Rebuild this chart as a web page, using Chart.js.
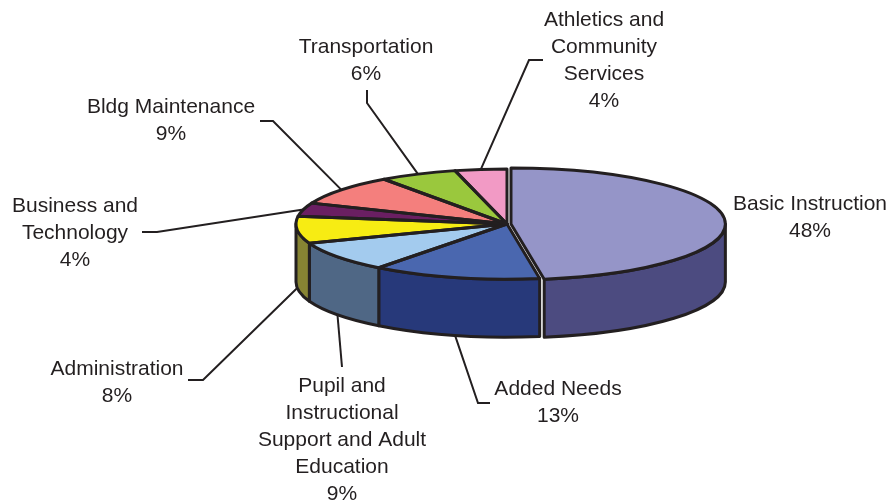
<!DOCTYPE html>
<html>
<head>
<meta charset="UTF-8">
<title>Expenditures by Function</title>
<script src="https://cdn.jsdelivr.net/npm/chart.js"></script>
<style>
  html, body { margin: 0; padding: 0; background: #fff; }
</style>
</head>
<body>
<canvas id="pieChart" width="892" height="501"></canvas>
<script>
// data
const categories = ['Basic Instruction', 'Added Needs', 'Pupil and Instructional Support and Adult Education',
  'Administration', 'Business and Technology', 'Bldg Maintenance', 'Transportation', 'Athletics and Community Services'];
const shares = [48, 13, 9, 8, 4, 9, 6, 4];
const labelLines = [
  ['Basic Instruction'],
  ['Added Needs'],
  ['Pupil and', 'Instructional', 'Support and Adult', 'Education'],
  ['Administration'],
  ['Business and', 'Technology'],
  ['Bldg Maintenance'],
  ['Transportation'],
  ['Athletics and', 'Community', 'Services']
];

// styles
const topColors  = ['#9595C8', '#4A67AF', '#A3CBEE', '#F7EC13', '#6A1F62', '#F47F7D', '#9AC83D', '#F29AC5'];
const sideColors = ['#4C4B80', '#27397A', '#4F6785', '#878433', '#3F1240', '#8F4544', '#5A7A22', '#8F5A75'];
const explode = [16, 0, 0, 0, 0, 0, 0, 0];
const EDGE = '#231F20';
const TILT = 0.261;   // ellipse ry / rx
const DEPTH = 58;     // thickness of the pie
const LINE_H = 27;

// label placement: x = text centre, y = first baseline, leader = points before the slice anchor
const labelLayout = [
  { x: 810, y: 210, leader: null },
  { x: 558, y: 395, leader: [[490, 403], [478, 403]] },
  { x: 342, y: 392, leader: [[342, 367]] },
  { x: 117, y: 375, leader: [[188, 380], [203, 380]] },
  { x: 75,  y: 212, leader: [[142, 232], [157, 232]] },
  { x: 171, y: 113, leader: [[260, 121], [273, 121]] },
  { x: 366, y: 53,  leader: [[367, 90], [367, 103]] },
  { x: 604, y: 26,  leader: [[543, 60], [529, 60]] }
];

// same shift Chart.js applies to an arc with an offset
function arcGeom(arc) {
  const off = (arc.options.offset || 0) / 4;
  const half = (arc.startAngle + arc.endAngle) / 2;
  const circ = arc.endAngle - arc.startAngle;
  const fix = 1 - Math.sin(Math.min(Math.PI, circ));
  return {
    cx: arc.x + Math.cos(half) * off,
    cy: arc.y + Math.sin(half) * off * TILT,
    r: arc.outerRadius + off * fix,
    a0: arc.startAngle,
    a1: arc.endAngle
  };
}

function topPath(ctx, g) {
  ctx.beginPath();
  ctx.moveTo(g.cx, g.cy);
  ctx.ellipse(g.cx, g.cy, g.r, g.r * TILT, 0, g.a0, g.a1);
  ctx.closePath();
}

function wallPath(ctx, g, s, e) {
  ctx.beginPath();
  ctx.ellipse(g.cx, g.cy, g.r, g.r * TILT, 0, s, e);
  ctx.lineTo(g.cx + g.r * Math.cos(e), g.cy + g.r * TILT * Math.sin(e) + DEPTH);
  ctx.ellipse(g.cx, g.cy + DEPTH, g.r, g.r * TILT, 0, e, s, true);
  ctx.closePath();
}

const pie3d = {
  id: 'pie3d',
  beforeDatasetsDraw(chart) {
    const ctx = chart.ctx;
    const arcs = chart.getDatasetMeta(0).data;
    ctx.save();
    ctx.lineWidth = 3;
    ctx.lineJoin = 'round';
    ctx.strokeStyle = EDGE;
    arcs.forEach((arc, i) => {
      const g = arcGeom(arc);
      const s = Math.max(g.a0, 0), e = Math.min(g.a1, Math.PI);
      if (s >= e) return;
      wallPath(ctx, g, s, e);
      ctx.fillStyle = sideColors[i];
      ctx.fill();
      ctx.stroke();
    });
    ctx.restore();
    // squash the library's own slices into the tilted top face
    const cx = arcs[0].x, cy = arcs[0].y;
    ctx.save();
    ctx.translate(cx, cy);
    ctx.scale(1, TILT);
    ctx.translate(-cx, -cy);
  },
  afterDatasetsDraw(chart) {
    const ctx = chart.ctx;
    ctx.restore();
    const arcs = chart.getDatasetMeta(0).data;
    ctx.save();
    ctx.lineWidth = 3;
    ctx.lineJoin = 'round';
    ctx.strokeStyle = EDGE;
    arcs.forEach(arc => { topPath(ctx, arcGeom(arc)); ctx.stroke(); });
    ctx.restore();
  },
  afterDraw(chart) {
    const ctx = chart.ctx;
    const arcs = chart.getDatasetMeta(0).data;
    ctx.save();
    ctx.font = '21px "Liberation Sans", Arial, sans-serif';
    ctx.fillStyle = EDGE;
    ctx.textAlign = 'center';
    ctx.textBaseline = 'alphabetic';
    ctx.strokeStyle = EDGE;
    ctx.lineWidth = 2;
    ctx.lineJoin = 'miter';
    arcs.forEach((arc, i) => {
      const L = labelLayout[i];
      const lines = labelLines[i].concat([shares[i] + '%']);
      lines.forEach((t, j) => ctx.fillText(t, L.x, L.y + j * LINE_H));
      if (!L.leader) return;
      const g = arcGeom(arc);
      const mid = (g.a0 + g.a1) / 2;
      const ax = g.cx + g.r * Math.cos(mid);
      let ay = g.cy + g.r * TILT * Math.sin(mid);
      if (Math.sin(mid) > 0) ay += DEPTH;
      ctx.beginPath();
      ctx.moveTo(L.leader[0][0], L.leader[0][1]);
      L.leader.slice(1).forEach(p => ctx.lineTo(p[0], p[1]));
      ctx.lineTo(ax, ay);
      ctx.stroke();
    });
    ctx.restore();
  }
};

const ctx = document.getElementById('pieChart').getContext('2d');
new Chart(ctx, {
  type: 'pie',
  data: {
    labels: categories,
    datasets: [{
      data: shares,
      backgroundColor: topColors,
      borderWidth: 0,
      offset: explode,
      hoverOffset: 0,
      radius: 211,
      clip: false
    }]
  },
  options: {
    responsive: false,
    animation: false,
    events: [],
    layout: { padding: { left: 122, right: 0, top: 0, bottom: 53 } },
    plugins: { legend: { display: false }, tooltip: { enabled: false } }
  },
  plugins: [pie3d]
});
</script>
</body>
</html>
